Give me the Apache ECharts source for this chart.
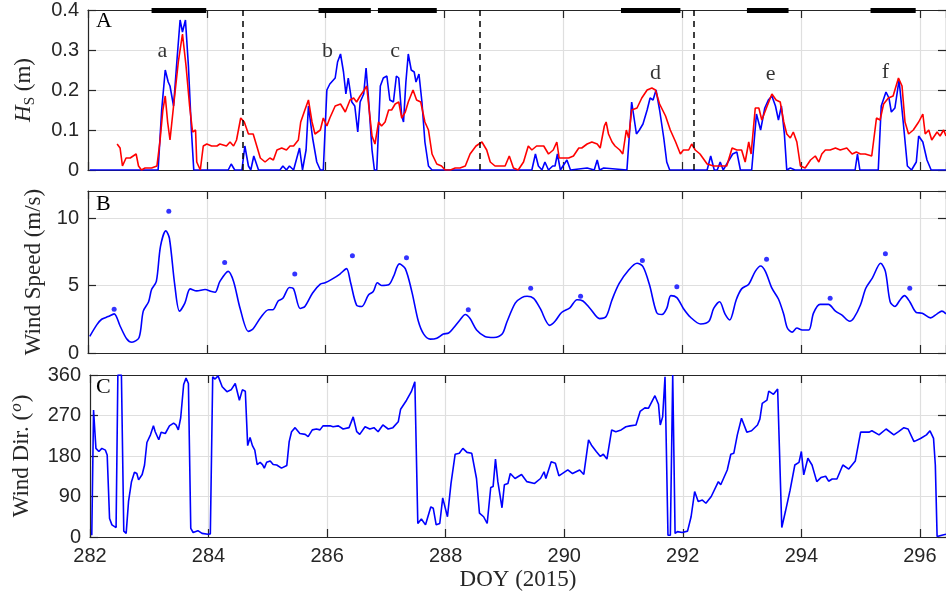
<!DOCTYPE html>
<html>
<head>
<meta charset="utf-8">
<script src="https://cdn.jsdelivr.net/npm/echarts@6/dist/echarts.min.js"></script>
<style>
  html, body { margin: 0; padding: 0; background: #fff; }
  #chart { width: 946px; height: 606px; }
</style>
</head>
<body>
<div id="chart"></div>
<script>
// DOY range shown
const dayMin = 282
const dayMax = 296.44

// panel A: significant wave height (m), [DOY, Hs]
const hsBlue = [
  [282.03,0],[283.18,0],[283.24,0.15],[283.30,0.25],[283.35,0.22],[283.38,0.21],[283.44,0.16],
  [283.50,0.28],[283.55,0.375],[283.59,0.345],[283.64,0.375],[283.69,0.26],[283.74,0.1],[283.78,0],
  [284.36,0],[284.41,0.015],[284.47,0],[284.59,0],[284.64,0.06],[284.70,0.01],[284.74,0],[284.79,0.035],
  [284.87,0],[285.23,0],[285.28,0.01],[285.34,0],[285.39,0.01],[285.46,0],[285.56,0.055],[285.61,0],
  [285.67,0.05],[285.71,0.16],[285.78,0.08],[285.85,0.02],[285.91,0],[285.96,0],[286.02,0.2],
  [286.07,0.215],[286.16,0.23],[286.20,0.27],[286.25,0.29],[286.30,0.245],[286.34,0.19],[286.38,0.23],
  [286.44,0.17],[286.49,0.16],[286.54,0.095],[286.58,0.17],[286.64,0.19],[286.68,0.255],[286.72,0.18],
  [286.78,0.05],[286.82,0],[286.86,0],[286.92,0.21],[286.97,0.23],[287.03,0.235],[287.08,0.175],
  [287.14,0.17],[287.19,0.235],[287.23,0.23],[287.28,0.135],[287.31,0.12],[287.35,0.22],[287.39,0.29],
  [287.44,0.25],[287.49,0.245],[287.52,0.22],[287.57,0.24],[287.62,0.17],[287.67,0.07],[287.73,0.01],
  [287.79,0],[289.47,0],[289.53,0.04],[289.58,0.01],[289.64,0],[289.69,0.02],[289.75,0],[289.82,0.01],
  [289.86,0.01],[289.90,0.04],[289.95,0],[290.06,0.025],[290.12,0],[290.40,0.005],[290.52,0],
  [290.57,0.025],[290.61,0],[290.68,0.005],[291.07,0],[291.15,0.17],[291.23,0.09],[291.28,0.1],
  [291.34,0.115],[291.41,0.15],[291.46,0.18],[291.51,0.175],[291.56,0.2],[291.62,0.15],[291.69,0.08],
  [291.74,0.02],[291.79,0],[292.42,0],[292.48,0.035],[292.54,0],[292.59,0],[292.64,0.02],[292.69,0],
  [292.85,0.04],[292.92,0.045],[292.98,0],[293.17,0],[293.25,0.14],[293.32,0.1],[293.39,0.155],
  [293.45,0.175],[293.51,0.185],[293.57,0.16],[293.62,0.125],[293.67,0.16],[293.72,0.09],[293.76,0],
  [293.82,0.005],[293.90,0],[294.91,0],[294.95,0.04],[294.99,0],[295.30,0],[295.35,0.16],[295.43,0.195],
  [295.48,0.18],[295.52,0.145],[295.58,0.155],[295.65,0.225],[295.72,0.12],[295.79,0.01],[295.86,0],
  [295.94,0.02],[295.98,0.085],[296.05,0.07],[296.12,0.025],[296.19,0],[296.44,0]
]
const hsRed = [
  [282.49,0.065],[282.54,0.055],[282.58,0.01],[282.64,0.03],[282.71,0.03],[282.76,0.035],[282.81,0.04],
  [282.85,0.01],[282.90,0],[282.96,0.005],[283.07,0.005],[283.16,0.01],[283.21,0.07],[283.26,0.15],
  [283.30,0.185],[283.34,0.12],[283.38,0.075],[283.44,0.16],[283.52,0.27],[283.59,0.34],[283.65,0.26],
  [283.71,0.16],[283.76,0.095],[283.81,0.1],[283.83,0.02],[283.89,0],[283.94,0.06],[284.00,0.065],
  [284.08,0.06],[284.17,0.06],[284.22,0.065],[284.33,0.06],[284.39,0.07],[284.45,0.06],[284.50,0.075],
  [284.57,0.13],[284.63,0.12],[284.70,0.09],[284.78,0.09],[284.84,0.06],[284.90,0.03],[284.98,0.02],
  [285.06,0.03],[285.12,0.025],[285.18,0.05],[285.26,0.055],[285.34,0.05],[285.40,0.06],[285.46,0.06],
  [285.54,0.075],[285.58,0.12],[285.65,0.15],[285.71,0.175],[285.77,0.12],[285.82,0.09],[285.91,0.1],
  [285.96,0.13],[286.02,0.11],[286.07,0.13],[286.16,0.16],[286.25,0.165],[286.33,0.145],[286.41,0.175],
  [286.47,0.18],[286.52,0.17],[286.58,0.185],[286.65,0.2],[286.69,0.21],[286.74,0.14],[286.78,0.085],
  [286.83,0.065],[286.89,0.12],[286.94,0.11],[287.00,0.12],[287.06,0.15],[287.11,0.15],[287.17,0.165],
  [287.23,0.17],[287.28,0.13],[287.34,0.145],[287.39,0.17],[287.47,0.2],[287.53,0.175],[287.60,0.17],
  [287.67,0.12],[287.73,0.1],[287.79,0.04],[287.87,0.015],[287.95,0.01],[288.01,0],[288.10,0],
  [288.18,0.005],[288.26,0.005],[288.35,0.01],[288.43,0.04],[288.53,0.06],[288.63,0.07],[288.71,0.05],
  [288.77,0.02],[288.85,0.01],[288.94,0.01],[289.02,0.01],[289.09,0.035],[289.16,0.005],[289.24,0],
  [289.33,0.02],[289.41,0.06],[289.47,0.05],[289.55,0.06],[289.67,0.06],[289.75,0.04],[289.83,0.05],
  [289.89,0.07],[289.93,0.03],[290.00,0.03],[290.09,0.03],[290.17,0.035],[290.26,0.055],[290.31,0.055],
  [290.40,0.065],[290.48,0.07],[290.57,0.065],[290.62,0.055],[290.69,0.11],[290.72,0.12],[290.76,0.09],
  [290.82,0.07],[290.87,0.06],[290.95,0.05],[291.00,0.04],[291.06,0.1],[291.10,0.08],[291.15,0.15],
  [291.24,0.155],[291.32,0.18],[291.41,0.2],[291.49,0.205],[291.55,0.2],[291.62,0.165],[291.72,0.135],
  [291.80,0.1],[291.89,0.07],[291.97,0.04],[292.02,0.05],[292.11,0.05],[292.16,0.065],[292.22,0.05],
  [292.30,0.04],[292.42,0.015],[292.53,0.01],[292.64,0.01],[292.75,0.01],[292.84,0.055],[292.92,0.05],
  [293.00,0.05],[293.06,0.02],[293.12,0.07],[293.16,0.04],[293.23,0.155],[293.29,0.155],[293.34,0.125],
  [293.43,0.16],[293.51,0.19],[293.58,0.175],[293.65,0.17],[293.71,0.12],[293.76,0.09],[293.82,0.08],
  [293.87,0.095],[293.93,0.07],[293.99,0.01],[294.07,0.005],[294.16,0.025],[294.24,0.035],[294.30,0.02],
  [294.35,0.04],[294.41,0.05],[294.49,0.05],[294.58,0.055],[294.66,0.05],[294.77,0.055],[294.86,0.04],
  [294.93,0.045],[295.00,0.04],[295.08,0.04],[295.19,0.035],[295.27,0.13],[295.33,0.125],[295.39,0.165],
  [295.47,0.18],[295.55,0.185],[295.64,0.23],[295.70,0.21],[295.75,0.12],[295.81,0.09],[295.89,0.1],
  [295.98,0.12],[296.05,0.14],[296.09,0.09],[296.15,0.1],[296.20,0.075],[296.29,0.095],[296.34,0.085],
  [296.40,0.1],[296.44,0.085]
]

// panel A annotations
const dashedDays = [284.6, 288.6, 292.2]
const periodStart = [283.07, 285.88, 286.88, 290.97, 293.09, 295.17]
const periodEnd = [283.99, 286.76, 287.87, 291.97, 293.79, 295.93]
const eventNames = ['a', 'b', 'c', 'd', 'e', 'f']
const eventDays = [283.25, 286.03, 287.17, 291.55, 293.49, 295.42]
const eventHs = [0.298, 0.298, 0.298, 0.241, 0.239, 0.245]

// panel B: wind speed (m/s)
const windSpeed = [
  [282.03,1.23],[282.15,2.1],[282.23,2.5],[282.34,2.7],[282.44,2.9],[282.54,2.0],[282.65,1.06],
  [282.74,0.8],[282.86,1.15],[282.93,3.1],[283.02,3.8],[283.07,4.7],[283.15,5.3],[283.22,7.9],
  [283.31,9.05],[283.37,8.5],[283.46,5.05],[283.54,3.1],[283.63,3.7],[283.72,4.75],[283.83,4.6],
  [283.97,4.7],[284.08,4.55],[284.14,4.5],[284.22,5.3],[284.36,6.05],[284.45,5.3],[284.56,3.3],
  [284.70,1.6],[284.78,1.8],[284.91,2.65],[285.04,3.2],[285.11,3.2],[285.20,3.85],[285.28,4.05],
  [285.39,4.85],[285.46,4.75],[285.57,3.3],[285.65,3.45],[285.78,4.45],[285.91,5.1],[285.99,5.2],
  [286.10,5.45],[286.24,5.85],[286.35,6.25],[286.42,5.2],[286.52,3.55],[286.61,3.45],[286.72,4.3],
  [286.80,4.55],[286.87,5.2],[286.94,5.0],[287.06,5.05],[287.14,5.65],[287.24,6.6],[287.34,6.25],
  [287.45,4.55],[287.56,2.35],[287.65,1.4],[287.76,1.03],[287.87,1.1],[287.98,1.4],[288.07,1.48],
  [288.15,1.85],[288.26,2.45],[288.35,2.85],[288.43,2.55],[288.54,1.7],[288.68,1.23],[288.83,1.15],
  [288.97,1.4],[289.05,2.3],[289.19,3.7],[289.30,4.1],[289.39,4.2],[289.50,4.05],[289.61,3.3],
  [289.77,2.05],[289.86,2.35],[289.97,3.0],[290.11,3.35],[290.23,3.95],[290.33,3.85],[290.45,3.3],
  [290.61,2.55],[290.72,2.7],[290.82,3.95],[290.94,5.15],[291.10,6.15],[291.24,6.65],[291.34,6.4],
  [291.45,5.05],[291.57,3.0],[291.66,2.85],[291.74,3.3],[291.81,4.25],[291.91,4.1],[292.02,3.3],
  [292.14,2.65],[292.31,2.15],[292.45,2.35],[292.53,3.3],[292.63,3.8],[292.72,2.9],[292.80,2.45],
  [292.91,3.95],[293.00,4.75],[293.12,5.1],[293.23,6.05],[293.32,6.45],[293.40,6.05],[293.51,4.8],
  [293.62,4.0],[293.71,2.85],[293.77,1.85],[293.85,1.55],[293.93,1.85],[294.02,1.7],[294.13,1.7],
  [294.21,2.95],[294.32,3.6],[294.46,3.6],[294.58,3.1],[294.69,2.8],[294.82,2.35],[294.89,2.6],
  [295.00,3.55],[295.09,4.8],[295.20,5.55],[295.34,6.65],[295.42,6.05],[295.50,3.8],[295.58,3.45],
  [295.67,3.95],[295.74,4.25],[295.83,3.8],[295.94,3.0],[296.04,2.95],[296.18,2.6],[296.29,2.9],
  [296.37,3.1],[296.44,2.9]
]
// daily maximum wind speed
const windMaxDays = [282.44, 283.36, 284.30, 285.48, 286.45, 287.36, 288.40, 289.45, 290.29, 291.33, 291.91, 293.42, 294.49, 295.42, 295.83]
const windMax = [3.25, 10.5, 6.7, 5.85, 7.2, 7.05, 3.2, 4.8, 4.2, 6.85, 4.9, 6.95, 4.05, 7.35, 4.8]

// panel C: wind direction (deg)
const windDir = [
  [282.03,4],[282.06,282],[282.10,197],[282.15,190],[282.20,197],[282.26,193],[282.29,182],[282.33,41],
  [282.37,27],[282.44,21],[282.47,360],[282.53,360],[282.57,13],[282.61,8],[282.65,79],[282.70,123],
  [282.75,144],[282.79,141],[282.82,127],[282.88,139],[282.92,160],[282.96,210],[283.02,227],[283.07,247],
  [283.10,234],[283.16,216],[283.20,233],[283.27,230],[283.34,247],[283.41,253],[283.45,249],[283.49,238],
  [283.53,265],[283.58,339],[283.62,353],[283.66,341],[283.70,19],[283.74,10],[283.82,14],[283.89,8],
  [283.99,6],[284.03,7],[284.07,356],[284.11,351],[284.16,358],[284.23,334],[284.31,323],[284.38,327],
  [284.45,341],[284.52,304],[284.57,327],[284.62,324],[284.66,203],[284.70,221],[284.74,203],[284.78,193],
  [284.82,161],[284.87,166],[284.91,161],[284.94,153],[284.98,166],[285.04,169],[285.09,161],[285.15,160],
  [285.18,164],[285.23,153],[285.32,159],[285.36,212],[285.40,234],[285.46,243],[285.54,230],[285.63,228],
  [285.68,223],[285.75,238],[285.82,240],[285.88,238],[285.93,247],[286.05,247],[286.10,245],[286.19,247],
  [286.27,240],[286.37,243],[286.44,267],[286.50,234],[286.55,228],[286.64,245],[286.72,240],[286.79,243],
  [286.86,234],[286.94,249],[287.03,240],[287.11,243],[287.20,256],[287.24,284],[287.34,304],[287.42,323],
  [287.48,345],[287.53,30],[287.59,40],[287.66,27],[287.75,67],[287.79,64],[287.84,27],[287.90,30],
  [287.95,87],[288.03,45],[288.09,119],[288.16,184],[288.23,186],[288.29,197],[288.36,188],[288.44,186],
  [288.52,130],[288.57,53],[288.64,45],[288.70,30],[288.76,110],[288.80,112],[288.84,173],[288.88,123],
  [288.95,65],[288.99,116],[289.05,119],[289.09,141],[289.17,130],[289.28,139],[289.37,123],[289.50,119],
  [289.60,130],[289.66,145],[289.69,130],[289.78,167],[289.85,164],[289.91,136],[290.06,149],[290.14,141],
  [290.26,149],[290.33,139],[290.41,216],[290.46,204],[290.54,190],[290.61,179],[290.66,184],[290.72,173],
  [290.80,238],[290.87,234],[290.96,238],[291.04,245],[291.11,247],[291.21,249],[291.28,279],[291.36,287],
  [291.42,286],[291.53,314],[291.59,295],[291.62,249],[291.66,267],[291.70,356],[291.75,4],[291.79,4],
  [291.83,360],[291.87,8],[291.91,12],[291.99,10],[292.08,13],[292.14,45],[292.20,101],[292.26,79],
  [292.33,82],[292.39,75],[292.48,90],[292.60,123],[292.64,116],[292.75,149],[292.81,184],[292.86,186],
  [292.92,227],[292.99,264],[293.08,233],[293.16,236],[293.26,249],[293.30,262],[293.34,297],[293.42,304],
  [293.45,324],[293.53,317],[293.60,329],[293.67,21],[293.73,56],[293.81,104],[293.89,160],[293.96,166],
  [294.00,190],[294.04,138],[294.11,175],[294.18,160],[294.26,123],[294.33,132],[294.41,135],[294.46,124],
  [294.52,129],[294.60,129],[294.70,160],[294.80,151],[294.91,169],[295.00,233],[295.14,233],[295.19,236],
  [295.31,227],[295.43,240],[295.56,227],[295.64,234],[295.73,243],[295.80,240],[295.90,212],[296.01,219],
  [296.11,227],[296.17,236],[296.23,219],[296.26,160],[296.29,1],[296.37,4],[296.44,6]
]

const yTicksA = { min: 0, max: 0.4, interval: 0.1 }
const yTicksB = { min: 0, max: 12, interval: 5 }
const yTicksC = { min: 0, max: 360, interval: 90 }

const dark = '#262626'
const gridGray = '#dfdfdf'
const sans = 'Liberation Sans'
const serif = 'Liberation Serif'

const chart = echarts.init(document.getElementById('chart'))

function xAxes(gridIndex, withLabels) {
  const base = {
    gridIndex,
    type: 'value',
    min: dayMin,
    max: dayMax,
    interval: 2,
    axisLine: { show: true, onZero: false, lineStyle: { color: dark, width: 1.2 } },
    axisTick: { show: true, inside: true, length: 8, lineStyle: { color: dark, width: 1.2 } }
  }
  return [
    Object.assign({}, base, {
      position: 'bottom',
      splitLine: { show: true, lineStyle: { color: gridGray, width: 1.2 } },
      axisLabel: {
        show: withLabels, showMaxLabel: false, margin: 9,
        color: dark, fontFamily: sans, fontSize: 20
      },
      name: withLabels ? 'DOY (2015)' : '',
      nameLocation: 'middle',
      nameGap: 31,
      nameTextStyle: { fontFamily: serif, fontSize: 23, color: dark }
    }),
    Object.assign({}, base, {
      position: 'top',
      splitLine: { show: false },
      axisLabel: { show: false }
    })
  ]
}

function yAxes(gridIndex, ticks, name, nameGap, rich) {
  const base = Object.assign({
    gridIndex,
    type: 'value',
    axisLine: { show: true, onZero: false, lineStyle: { color: dark, width: 1.2 } },
    axisTick: { show: true, inside: true, length: 8, lineStyle: { color: dark, width: 1.2 } }
  }, ticks)
  return [
    Object.assign({}, base, {
      position: 'left',
      splitLine: { show: true, lineStyle: { color: gridGray, width: 1.2 } },
      axisLabel: {
        showMaxLabel: ticks.max % ticks.interval === 0 || ticks.interval === 0.1,
        margin: 9, color: dark, fontFamily: sans, fontSize: 20
      },
      name,
      nameLocation: 'middle',
      nameRotate: 90,
      nameGap,
      nameTextStyle: { fontFamily: serif, fontSize: 23, color: dark, rich }
    }),
    Object.assign({}, base, {
      position: 'right',
      splitLine: { show: false },
      axisLabel: { show: false }
    })
  ]
}

const richHs = {
  i: { fontFamily: serif, fontStyle: 'italic', fontSize: 23, color: dark },
  s: { fontFamily: serif, fontSize: 15, color: dark, padding: [13, 0, 0, 0] },
  n: { fontFamily: serif, fontSize: 23, color: dark }
}
const richDir = {
  n: { fontFamily: serif, fontSize: 23, color: dark },
  o: { fontFamily: serif, fontStyle: 'italic', fontSize: 17, color: dark, padding: [0, 1, 10, 1] }
}

const letterStyle = { fontFamily: serif, fontSize: 22, color: '#000' }

chart.setOption({
  animation: false,
  backgroundColor: '#fff',
  grid: [
    { left: 88, right: 0, top: 7, height: 163 },
    { left: 88, right: 0, top: 191, height: 162 },
    { left: 88, right: 0, top: 375, height: 162 }
  ],
  xAxis: [].concat(xAxes(0, false), xAxes(1, false), xAxes(2, true)),
  yAxis: [].concat(
    yAxes(0, yTicksA, '{i|H}{s|S}{n| (m)}', 50, richHs),
    yAxes(1, yTicksB, 'Wind Speed (m/s)', 42),
    yAxes(2, yTicksC, '{n|Wind Dir. (}{o|o}{n|)}', 55, richDir)
  ),
  graphic: [
    { type: 'text', left: 96, top: 10, style: Object.assign({ text: 'A' }, letterStyle) },
    { type: 'text', left: 96, top: 193, style: Object.assign({ text: 'B' }, letterStyle) },
    { type: 'text', left: 96, top: 376, style: Object.assign({ text: 'C' }, letterStyle) }
  ],
  series: [
    {
      name: 'Hs blue',
      type: 'line',
      xAxisIndex: 0, yAxisIndex: 0,
      data: hsBlue,
      showSymbol: false,
      lineStyle: { color: '#0000ff', width: 1.6 },
      markLine: {
        silent: true,
        symbol: 'none',
        label: { show: false },
        lineStyle: { color: '#000', width: 1.5, type: [6, 5] },
        data: dashedDays.map(d => ({ xAxis: d }))
      }
    },
    {
      name: 'Hs red',
      type: 'line',
      xAxisIndex: 0, yAxisIndex: 0,
      data: hsRed,
      showSymbol: false,
      lineStyle: { color: '#ff0000', width: 1.6 }
    },
    {
      name: 'periods',
      type: 'line',
      xAxisIndex: 0, yAxisIndex: 0,
      data: [],
      clip: false,
      markLine: {
        silent: true,
        symbol: 'none',
        label: { show: false },
        lineStyle: { color: '#000', width: 5, type: 'solid' },
        data: periodStart.map((s, i) => [
          { coord: [s, yTicksA.max] },
          { coord: [periodEnd[i], yTicksA.max] }
        ])
      }
    },
    {
      name: 'events',
      type: 'scatter',
      xAxisIndex: 0, yAxisIndex: 0,
      symbolSize: 0,
      data: eventNames.map((n, i) => ({ name: n, value: [eventDays[i], eventHs[i]] })),
      label: Object.assign({ show: true, position: 'inside', formatter: '{b}' }, letterStyle)
    },
    {
      name: 'wind speed',
      type: 'line',
      xAxisIndex: 2, yAxisIndex: 2,
      data: windSpeed,
      smooth: 0.3,
      showSymbol: false,
      lineStyle: { color: '#0000ff', width: 1.6 }
    },
    {
      name: 'daily max',
      type: 'scatter',
      xAxisIndex: 2, yAxisIndex: 2,
      data: windMaxDays.map((d, i) => [d, windMax[i]]),
      symbolSize: 5,
      itemStyle: { color: '#0000ff' }
    },
    {
      name: 'wind dir',
      type: 'line',
      xAxisIndex: 4, yAxisIndex: 4,
      data: windDir,
      showSymbol: false,
      lineStyle: { color: '#0000ff', width: 1.6 }
    }
  ]
})
</script>
</body>
</html>
